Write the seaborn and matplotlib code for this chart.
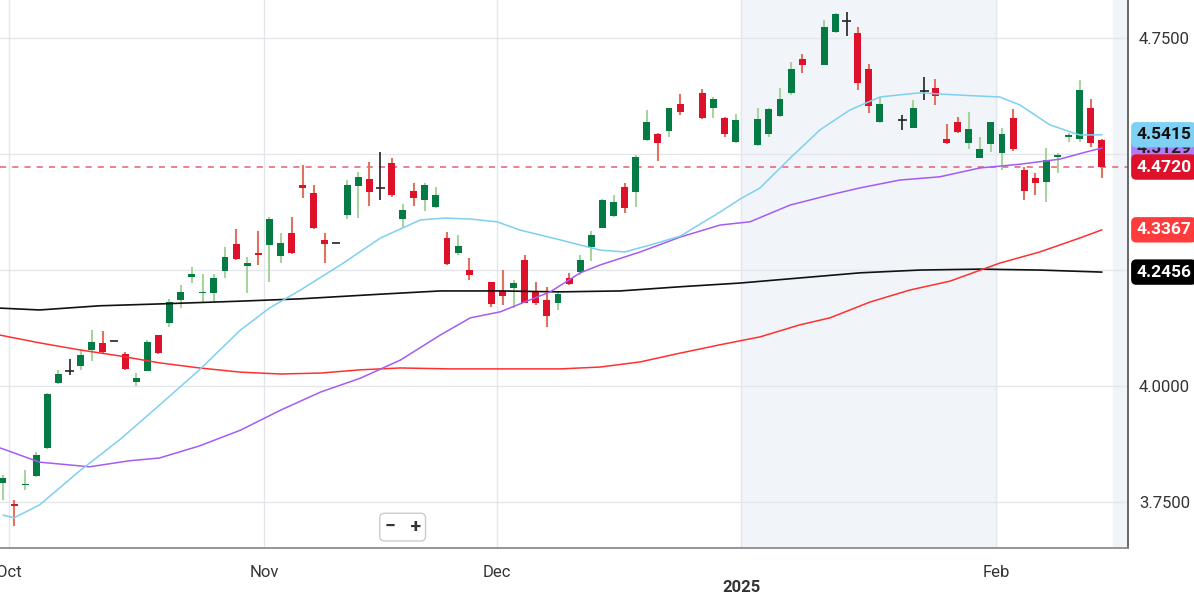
import numpy as np
import pandas as pd
import matplotlib
matplotlib.use("Agg")
import matplotlib.pyplot as plt
import seaborn as sns

# trading-day index 0 = 2024-09-30; NaN rows are market holidays
opens  = [3.791,3.744,3.787,3.806,3.867,4.007,4.032,4.043,4.078,4.093,4.097,4.069,4.009,4.032,4.110,4.136,4.186,4.235,4.200,4.201,
          4.248,4.306,4.259,4.287,4.304,4.280,4.330,4.433,4.416,4.315,4.308,4.369,4.431,4.446,4.427,4.481,4.360,4.420,4.401,4.386,
          4.319,4.287,4.250,np.nan,4.224,4.205,4.211,4.272,4.205,4.186,4.179,4.233,4.246,4.300,4.341,4.367,4.429,4.418,4.530,4.543,
          4.550,4.608,np.nan,4.632,4.599,4.578,4.526,np.nan,4.519,4.543,4.582,4.632,4.705,np.nan,4.692,4.763,4.787,4.761,4.683,4.569,
          np.nan,4.573,4.556,4.636,4.642,4.532,4.569,4.524,4.492,4.522,4.502,4.578,4.466,4.448,4.440,4.494,4.537,4.532,4.599,4.530]
highs  = [3.808,3.754,3.819,3.858,3.985,4.035,4.058,4.080,4.121,4.119,4.097,4.073,4.028,4.099,4.110,4.188,4.218,4.257,4.242,4.242,
          4.300,4.338,4.278,4.334,4.364,4.330,4.364,4.476,4.433,4.330,4.308,4.444,4.461,4.483,4.504,4.491,4.392,4.438,4.438,4.429,
          4.332,4.325,4.276,np.nan,4.224,4.250,4.229,4.282,4.224,4.213,4.203,4.244,4.282,4.334,4.403,4.412,4.438,4.498,4.595,4.545,
          4.599,4.629,np.nan,4.640,4.623,4.580,4.586,np.nan,4.599,4.599,4.642,4.698,4.716,np.nan,4.789,4.804,4.806,4.774,4.694,4.623,
          np.nan,4.584,4.617,4.666,4.662,4.565,4.580,4.591,4.537,4.569,4.556,4.597,4.472,4.459,4.513,4.502,4.545,4.660,4.619,4.532]
lows   = [3.754,3.698,3.776,3.804,3.865,4.005,4.024,4.035,4.054,4.069,4.097,4.035,4.000,4.032,4.069,4.127,4.168,4.222,4.181,4.181,
          4.233,4.272,4.201,4.261,4.224,4.265,4.285,4.405,4.339,4.265,4.308,4.360,4.362,4.388,4.401,4.407,4.341,4.388,4.377,4.384,
          4.261,4.282,4.229,np.nan,4.170,4.175,4.168,4.179,4.175,4.127,4.164,4.218,4.239,4.270,4.341,4.364,4.373,4.386,4.528,4.485,
          4.537,4.584,np.nan,4.576,4.578,4.537,4.524,np.nan,4.517,4.537,4.580,4.627,4.675,np.nan,4.692,4.761,4.754,4.638,4.588,4.567,
          np.nan,4.552,4.556,4.617,4.606,4.522,4.545,4.511,4.492,4.504,4.466,4.507,4.401,4.412,4.397,4.459,4.526,4.526,4.515,4.448]
closes = [3.802,3.742,3.789,3.851,3.983,4.026,4.032,4.067,4.095,4.073,4.097,4.037,4.017,4.095,4.071,4.181,4.203,4.242,4.202,4.233,
          4.278,4.274,4.265,4.282,4.360,4.308,4.287,4.427,4.341,4.306,4.308,4.433,4.451,4.418,4.427,4.412,4.379,4.405,4.433,4.412,
          4.263,4.302,4.239,np.nan,4.177,4.194,4.222,4.179,4.179,4.151,4.198,4.220,4.272,4.326,4.401,4.397,4.384,4.494,4.569,4.524,
          4.599,4.591,np.nan,4.578,4.619,4.543,4.573,np.nan,4.576,4.597,4.619,4.683,4.692,np.nan,4.774,4.802,4.787,4.653,4.604,4.608,
          np.nan,4.573,4.599,4.636,4.625,4.524,4.547,4.554,4.511,4.569,4.543,4.511,4.420,4.438,4.487,4.496,4.539,4.638,4.524,4.472]

ma20_x = [0,1,3.3,7,10.5,14.1,17.7,21.4,24,26.8,30.4,34,37.6,39.8,42.1,44.5,46.6,50.2,53.8,56,58.3,61,64.6,66.4,68.2,70.9,73.6,76.3,79,82.6,86.2,89.8,91.6,94.3,97,99]
ma20_y = [3.722,3.716,3.744,3.819,3.884,3.959,4.035,4.121,4.168,4.207,4.261,4.319,4.358,4.362,4.360,4.354,4.336,4.315,4.293,4.289,4.304,4.323,4.375,4.403,4.427,4.491,4.552,4.595,4.623,4.632,4.627,4.623,4.606,4.563,4.541,4.5415]
ma50_x = [-0.3,3.3,7.8,11.4,14.1,17.7,21.4,25,28.6,32.2,35.8,39.4,42.1,44.8,47.5,49.3,52,53.8,57.4,61,64.6,67.3,70.9,74.5,77.2,80.8,84.4,88,91.6,95.2,97.5,99]
ma50_y = [3.867,3.836,3.826,3.839,3.845,3.871,3.905,3.948,3.987,4.017,4.056,4.110,4.147,4.160,4.186,4.203,4.244,4.261,4.289,4.321,4.347,4.354,4.390,4.412,4.427,4.444,4.451,4.470,4.478,4.489,4.504,4.5129]
ma100_x = [-0.3,3.3,6.9,10.5,14.1,17.7,21.4,25,28.6,32.2,35.8,40.3,44.8,50.2,53.8,57.4,61,64.6,68.2,71.8,74.5,78.1,81.7,85.3,89.8,93.4,97,99]
ma100_y = [4.110,4.093,4.078,4.065,4.050,4.039,4.030,4.026,4.028,4.035,4.039,4.037,4.037,4.037,4.041,4.052,4.071,4.089,4.106,4.132,4.147,4.181,4.207,4.226,4.265,4.289,4.319,4.3367]
ma200_x = [-0.3,3.3,8.7,14.1,21.4,26.8,34,39.4,44.8,50.2,55.6,61,66.4,71.8,77.2,82.6,88,93.4,99]
ma200_y = [4.168,4.164,4.173,4.177,4.183,4.188,4.198,4.205,4.205,4.203,4.205,4.214,4.222,4.233,4.244,4.250,4.252,4.250,4.2456]

month_labels = ["Oct", "Nov", "Dec", "2025", "Feb"]
month_pos = [0.5, 23.5, 44.5, 66.5, 89.5]
ytick_vals = [3.75, 4.0, 4.25, 4.5, 4.75]
last_price = 4.4720

sns.set_theme(style="white", rc={"font.family": "Roboto"})
fig = plt.figure(figsize=(11.94, 5.98), dpi=100)
ax = fig.add_axes([0, 1 - 548/598, 1128/1194, 548/598])
ax.set_xlim(-0.27, 101.35)
ax.set_ylim(3.651, 4.832)

ax.axvspan(66.5, 89.5, color="#f1f5f9", zorder=0)
ax.axvspan(100.0, 101.35, color="#f1f5f9", zorder=0)
for v in ytick_vals:
    ax.axhline(v, color="#e3e6ea", lw=1, zorder=1)
for p in month_pos:
    ax.axvline(p, color="#e3e6ea", lw=1, zorder=1)

df = pd.DataFrame({"o": opens, "h": highs, "l": lows, "c": closes})
df["i"] = np.arange(len(df))
df = df.dropna()
GB, RB = "#047a45", "#dd1129"
GW, RW = "#a9d39c", "#e0735f"
for _, r in df.iterrows():
    if abs(r.c - r.o) < 0.0005:
        ax.vlines(r.i, r.l, r.h, color="#222222", lw=1.2, zorder=3)
        ax.hlines(r.o, r.i - 0.4, r.i + 0.4, color="#222222", lw=1.2, zorder=3)
        continue
    up = r.c > r.o
    ax.vlines(r.i, r.l, r.h, color=GW if up else RW, lw=1.5, zorder=3)
    lo, hi = min(r.o, r.c), max(r.o, r.c)
    ax.bar(r.i, max(hi - lo, 0.003), bottom=lo, width=0.62,
           color=GB if up else RB, edgecolor="none", zorder=4)

sns.lineplot(x=ma200_x, y=ma200_y, ax=ax, color="#111111", lw=1.2, zorder=5)
sns.lineplot(x=ma100_x, y=ma100_y, ax=ax, color="#ff3030", lw=1.1, zorder=5)
sns.lineplot(x=ma50_x, y=ma50_y, ax=ax, color="#a45cf5", lw=1.1, zorder=5)
sns.lineplot(x=ma20_x, y=ma20_y, ax=ax, color="#7fcff2", lw=1.1, zorder=5)
ax.axhline(last_price, color="#e06070", lw=1.1, ls=(0, (4, 4)), zorder=2)

for s in ["top", "left"]:
    ax.spines[s].set_visible(False)
ax.spines["right"].set_color("#555555")
ax.spines["bottom"].set_color("#888888")
ax.yaxis.tick_right()
ax.set_yticks([3.75, 4.0, 4.75])
ax.set_yticklabels(["3.7500", "4.0000", "4.7500"], fontsize=12, color="#333333")
ax.tick_params(axis="y", length=0, pad=8)
ax.set_xticks(month_pos)
ax.set_xticklabels([m if m != "2025" else "" for m in month_labels], fontsize=12, color="#333333")
ax.tick_params(axis="x", length=4, color="#888888", pad=8)
ax.text(66.5, 3.651 - 0.068, "2025", ha="center", va="top",
        fontsize=12, color="#333333", fontweight="bold", clip_on=False)

badges = [(4.5129, "#b07cf7", "#222222"), (4.5415, "#7fd0f5", "#111111"),
          (4.4720, "#dd1129", "white"), (4.3367, "#ff3b3b", "white"), (4.2456, "#000000", "white")]
for val, bg, fg in badges:
    ax.annotate(f"{val:.4f}", xy=(1.0, val), xycoords=("axes fraction", "data"),
                xytext=(6, 0), textcoords="offset points", ha="left", va="center",
                fontsize=12.5, fontweight="bold", color=fg,
                bbox=dict(boxstyle="round,pad=0.3", fc=bg, ec="none"))

ax.text(36.0, 3.696, "\u2212   +", ha="center", va="center", fontsize=14, color="#333333",
        fontweight="bold", bbox=dict(boxstyle="round,pad=0.25", fc="white", ec="#cccccc"))
fig.savefig("out.png", dpi=100)
